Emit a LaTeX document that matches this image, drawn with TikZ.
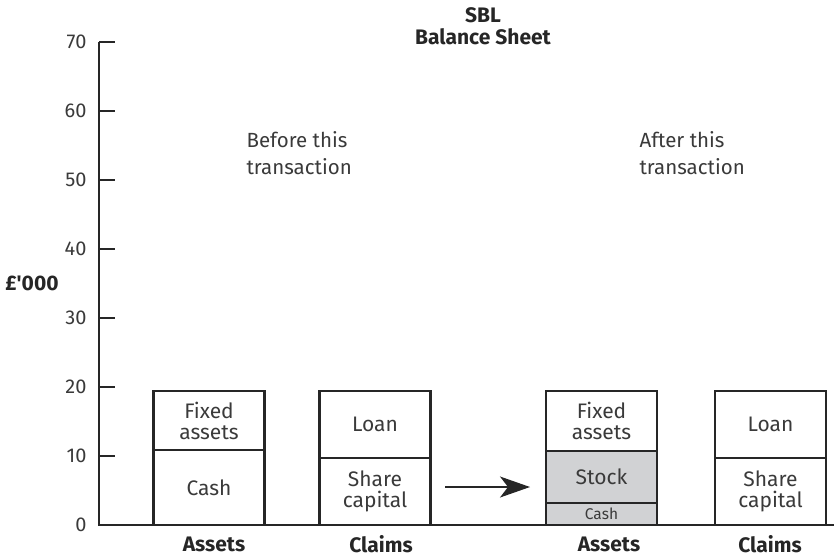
\documentclass[tikz,border=0pt]{standalone}
\usepackage{fontspec}
\setmainfont{Fira Sans}
\usetikzlibrary{positioning,arrows.meta}
\definecolor{txtgrey}{HTML}{3A3A3A}
\definecolor{boxgrey}{HTML}{D1D2D4}
\begin{document}
\begin{tikzpicture}[x=1pt,y=-1pt,
  seg/.style={draw=black!85, line width=2.6pt, minimum width=111pt, inner sep=0pt, outer sep=0pt,
    anchor=north west, align=center, text=txtgrey, font=\fontsize{21}{21}\selectfont},
  shaded/.style={seg, fill=boxgrey},
  lbl/.style={text=black!85, inner sep=0pt, font=\fontsize{21}{24}\selectfont\bfseries},
  note/.style={text=txtgrey, align=left, anchor=north west, font=\fontsize{20.5}{27}\selectfont}]
\useasboundingbox (0,0) rectangle (834,558);
	\draw[line width=1.3pt, black!85] (99,42) -- (99,525) -- (834,525);
	\foreach \v in {0,10,...,70} {
		\pgfmathsetmacro\ty{525-6.9*\v}
		\draw[line width=1.3pt, black!85] (99,\ty) -- (115,\ty);
		\node[anchor=east, text=txtgrey, font=\fontsize{20}{21}\selectfont] (tick\v) at (90,\ty) {\v};
	}
	\node[lbl] (unit) at (32,283) {£\textquotesingle000};
	\node[lbl] (title) at (483,15) {SBL};
	\node[lbl, below=6pt of title] (subtitle) {Balance Sheet};
	\node[note] (before) at (243,128) {Before this\\transaction};
	\node[note] (after) at (636,128) {After this\\transaction};
	\node[seg, minimum height=59pt] (fixedA) at (153.5,391) {Fixed\\assets};
	\node[seg, minimum height=75pt] (cashA) at (fixedA.south west) {Cash};
	\node[seg, minimum height=67pt] (loanA) at (319.5,391) {Loan};
	\node[seg, minimum height=67pt] (shareA) at (loanA.south west) {Share\\capital};
	\node[seg, minimum height=60pt] (fixedB) at (546,391) {Fixed\\assets};
	\node[shaded, minimum height=52pt] (stockB) at (fixedB.south west) {Stock};
	\node[shaded, minimum height=22pt, font=\fontsize{15.5}{17}\selectfont] (cashB) at (stockB.south west) {Cash};
	\node[seg, minimum height=67pt] (loanB) at (715,391) {Loan};
	\node[seg, minimum height=67pt] (shareB) at (loanB.south west) {Share\\capital};
	\node[lbl] (assetsA) at (214,544) {Assets};
	\node[lbl] (claimsA) at (381,544) {Claims};
	\node[lbl] (assetsB) at (609,544) {Assets};
	\node[lbl] (claimsB) at (770,544) {Claims};
	\coordinate (arrS) at (445,487);
	\draw[line width=1.3pt, black!85, -{Stealth[length=30pt,width=21pt,inset=8pt]}, shorten >=16pt] (arrS) -- (arrS -| stockB.west);
\end{tikzpicture}
\end{document}
